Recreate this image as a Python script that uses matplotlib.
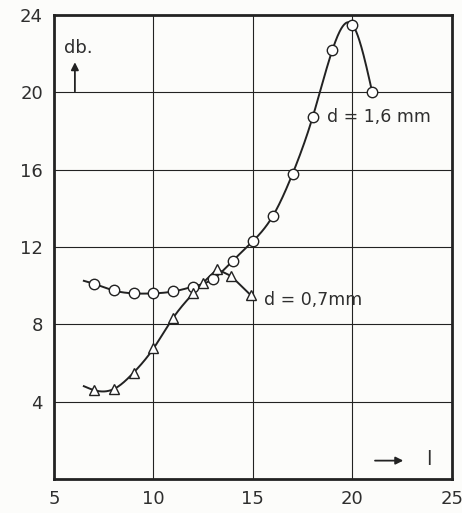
import numpy as np
import matplotlib
matplotlib.use("Agg")
import matplotlib.pyplot as plt

# Data
x_ticks = [5, 10, 15, 20, 25]
y_ticks = [4, 8, 12, 16, 20, 24]

# d = 1,6 mm (circles)
x_16 = [7, 8, 9, 10, 11, 12, 13, 14, 15, 16, 17, 18, 19, 20, 21]
y_16 = [10.1, 9.75, 9.6, 9.6, 9.7, 9.95, 10.35, 11.3, 12.3, 13.6, 15.8, 18.7, 22.2, 23.5, 20.0]
start_16 = (6.5, 10.25)

# d = 0,7 mm (triangles)
x_07 = [7, 8, 9, 10, 11, 12, 12.5, 13.2, 13.9, 14.9]
y_07 = [4.6, 4.65, 5.5, 6.75, 8.35, 9.6, 10.15, 10.85, 10.5, 9.5]
start_07 = (6.5, 4.8)

label_16 = "d = 1,6 mm"
label_07 = "d = 0,7mm"
ylab = "db."
xlab = "l"


def natural_spline(x, y, n=400):
    x = np.asarray(x, float)
    y = np.asarray(y, float)
    m = len(x)
    h = np.diff(x)
    A = np.zeros((m, m))
    b = np.zeros(m)
    A[0, 0] = 1
    A[-1, -1] = 1
    for i in range(1, m - 1):
        A[i, i - 1] = h[i - 1]
        A[i, i] = 2 * (h[i - 1] + h[i])
        A[i, i + 1] = h[i]
        b[i] = 3 * ((y[i + 1] - y[i]) / h[i] - (y[i] - y[i - 1]) / h[i - 1])
    c = np.linalg.solve(A, b)
    xs = np.linspace(x[0], x[-1], n)
    ys = np.empty_like(xs)
    for k, xv in enumerate(xs):
        i = min(np.searchsorted(x, xv, side="right") - 1, m - 2)
        dx = xv - x[i]
        bi = (y[i + 1] - y[i]) / h[i] - h[i] * (2 * c[i] + c[i + 1]) / 3
        di = (c[i + 1] - c[i]) / (3 * h[i])
        ys[k] = y[i] + bi * dx + c[i] * dx ** 2 + di * dx ** 3
    return xs, ys


ink = "#222222"
txt = "#2e2e2e"
bg = "#fcfcfa"

fig = plt.figure(figsize=(4.62, 5.13), dpi=100, facecolor=bg)
ax = fig.add_axes([0.1169, 0.0663, 0.861, 0.9045], facecolor=bg)
ax.set_xlim(5, 25)
ax.set_ylim(0, 24)

for v in [10, 15, 20]:
    ax.axvline(v, color=ink, lw=0.8, zorder=1)
for v in [4, 8, 12, 16, 20]:
    ax.axhline(v, color=ink, lw=0.8, zorder=1)

# curves
xs, ys = natural_spline([start_16[0]] + x_16, [start_16[1]] + y_16)
ax.plot(xs, ys, color=ink, lw=1.4, zorder=2)
xs, ys = natural_spline([start_07[0]] + x_07[:8], [start_07[1]] + y_07[:8])
ax.plot(xs, ys, color=ink, lw=1.4, zorder=2)
ax.plot(x_07[7:], y_07[7:], color=ink, lw=1.4, zorder=2)

ax.plot(x_16, y_16, ls="none", marker="o", ms=7.5, mfc="white", mec=ink, mew=1.0, zorder=3)
ax.plot(x_07, y_07, ls="none", marker="^", ms=6.5, mfc="white", mec=ink, mew=1.0, zorder=3)

ax.set_xticks(x_ticks)
ax.set_yticks(y_ticks)
ax.tick_params(length=0, labelsize=13, colors=txt, pad=8)
for s in ax.spines.values():
    s.set_linewidth(2.0)
    s.set_color(ink)

ax.text(18.75, 18.7, label_16, fontsize=12.5, color=txt, va="center", ha="left")
ax.text(15.55, 9.25, label_07, fontsize=12.5, color=txt, va="center", ha="left")

ax.text(5.5, 22.3, ylab, fontsize=13, color=txt, va="center", ha="left")
ax.annotate("", xy=(6.05, 21.7), xytext=(6.05, 19.9),
            arrowprops=dict(arrowstyle="-|>", color=ink, lw=1.3, mutation_scale=11))
ax.annotate("", xy=(22.7, 0.95), xytext=(21.0, 0.95),
            arrowprops=dict(arrowstyle="-|>", color=ink, lw=1.3, mutation_scale=11))
ax.text(23.85, 1.0, xlab, fontsize=14, color=txt, va="center", ha="center")

fig.savefig("out.png", dpi=100, facecolor=bg)
